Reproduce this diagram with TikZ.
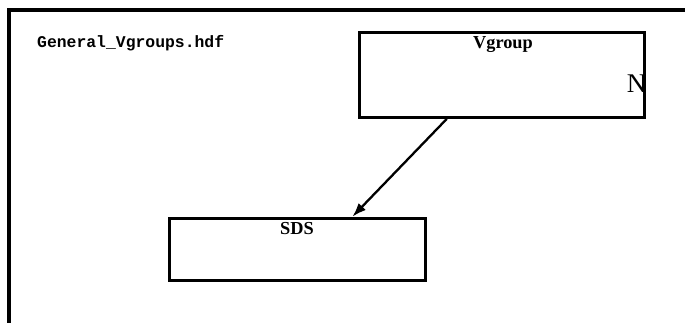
\documentclass[tikz,border=0pt]{standalone}
\usepackage{fontspec}
\setmainfont{Liberation Serif}
\setmonofont{Liberation Mono}
\usetikzlibrary{arrows.meta}
\begin{document}
\begin{tikzpicture}[x=1pt,y=-1pt,
  box/.style={draw,line width=2.9pt,inner sep=0pt,anchor=north west},
  lbl/.style={inner sep=0pt,anchor=base,font=\bfseries\fontsize{18.3}{21}\selectfont},
  conn/.style={line width=2.3pt,-{Latex[length=14pt,width=10pt]}}]
\useasboundingbox (0,0) rectangle (685,322);
% outer frame (open at bottom and right)
\draw[line width=3.2pt] (9,323) -- (9,10) -- (686,10);
\node[inner sep=0pt,anchor=base west,font=\ttfamily\bfseries\fontsize{16.4}{19}\selectfont] (title) at (37,47.7) {General\_Vgroups.hdf};
\node[box,minimum width=285pt,minimum height=85pt] (vg) at (358.3,31) {};
\node[lbl] (vgt) at (503,48.3) {Vgroup};
\node[inner sep=0pt,anchor=base,font=\fontsize{27}{30}\selectfont] (n) at (636.5,92) {N};
\node[box,minimum width=256.5pt,minimum height=62pt] (sds) at (167.7,216.7) {};
\node[lbl] (sdst) at (297,234) {SDS};
\draw[conn] ([xshift=-55.5pt]vg.south) -- ([xshift=55pt]sds.north);
\end{tikzpicture}
\end{document}
